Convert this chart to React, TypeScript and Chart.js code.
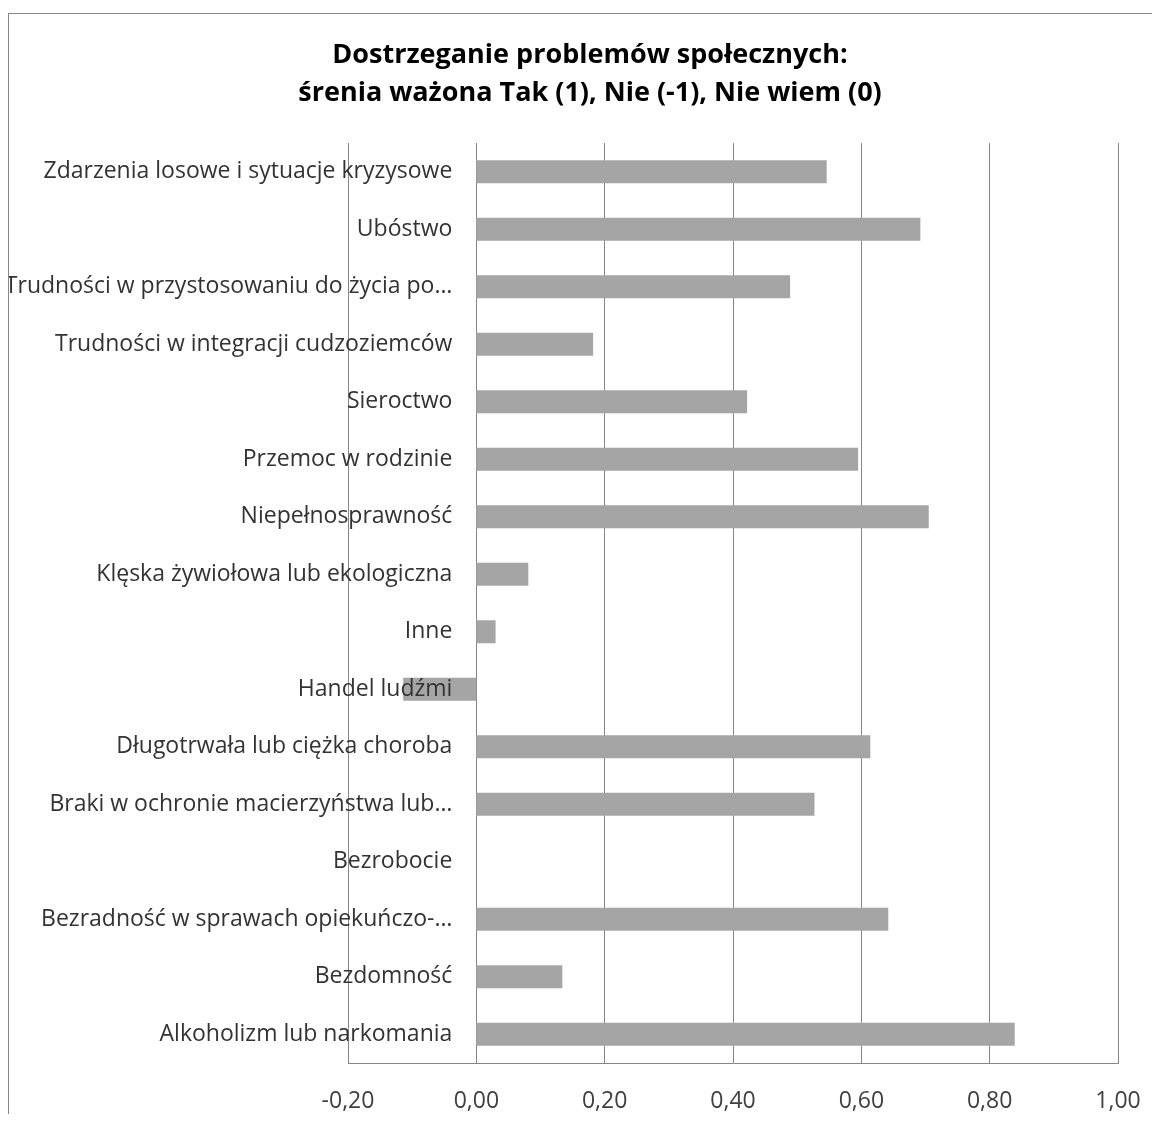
import React, { useEffect, useRef } from "react";
import { Chart, registerables } from "chart.js";

Chart.register(...registerables);

const titleLines = [
  "Dostrzeganie problemów społecznych:",
  "śrenia ważona Tak (1), Nie (-1), Nie wiem (0)",
];

const categories = [
  "Zdarzenia losowe i sytuacje kryzysowe",
  "Ubóstwo",
  "Trudności w przystosowaniu do życia po…",
  "Trudności w integracji cudzoziemców",
  "Sieroctwo",
  "Przemoc w rodzinie",
  "Niepełnosprawność",
  "Klęska żywiołowa lub ekologiczna",
  "Inne",
  "Handel ludźmi",
  "Długotrwała lub ciężka choroba",
  "Braki w ochronie macierzyństwa lub…",
  "Bezrobocie",
  "Bezradność w sprawach opiekuńczo-…",
  "Bezdomność",
  "Alkoholizm lub narkomania",
];

const values = [
  0.546, 0.692, 0.489, 0.182, 0.422, 0.595, 0.705, 0.081, 0.03, -0.114, 0.614,
  0.527, 0.0, 0.642, 0.134, 0.839,
];

const xMin = -0.2;
const xMax = 1.0;
const xStep = 0.2;

// category labels end a little left of the zero line (Excel style)
const LABEL_ANCHOR = -0.0374;

const LABEL_FONT = "'Open Sans', sans-serif";

export default function App() {
  const ref = useRef<HTMLCanvasElement | null>(null);

  useEffect(() => {
    if (!ref.current) return;
    const chart = new Chart(ref.current, {
      type: "bar",
      data: {
        labels: categories,
        datasets: [
          {
            data: values,
            backgroundColor: "#a5a5a5",
            borderWidth: 0,
            categoryPercentage: 0.8,
            barPercentage: 0.5,
          },
        ],
      },
      options: {
        indexAxis: "y",
        responsive: false,
        animation: false,
        layout: { padding: { left: 53, right: 34, top: 0, bottom: 1 } },
        plugins: {
          legend: { display: false },
          tooltip: { enabled: false },
          title: {
            display: true,
            text: titleLines,
            color: "#000000",
            font: { family: LABEL_FONT, size: 27, weight: "bold", lineHeight: 38 / 27 },
            padding: { top: 22, bottom: 31 },
          },
        },
        scales: {
          x: {
            type: "linear",
            min: xMin,
            max: xMax,
            afterFit: (scale: any) => {
              scale.height = 50;
              scale.paddingRight = 0;
              scale.paddingLeft = 0;
            },
            ticks: {
              stepSize: xStep,
              padding: 25,
              color: "#404040",
              font: { family: LABEL_FONT, size: 23 },
              callback: (v: any) => {
                const n = Math.abs(Number(v)) < 1e-9 ? 0 : Number(v);
                return n.toFixed(2).replace(".", ",");
              },
            },
            grid: { color: "#868686", lineWidth: 1, drawTicks: false },
            border: { display: true, color: "#868686", width: 1 },
          },
          y: {
            position: { x: LABEL_ANCHOR },
            grid: { display: false, drawTicks: false },
            border: { display: false },
            ticks: {
              padding: 0,
              z: 1,
              autoSkip: false,
              color: "#333333",
              font: { family: LABEL_FONT, size: 23 },
            },
          },
          yPad: {
            type: "linear",
            axis: "y",
            position: "left",
            display: true,
            ticks: { display: false },
            grid: { display: false, drawTicks: false },
            border: { display: false },
            afterFit: (scale: any) => {
              scale.width = 286;
            },
          },
        },
      },
    });
    return () => chart.destroy();
  }, []);

  return (
    <div style={{ paddingTop: 5 }}>
      <div
        style={{
          borderLeft: "1px solid #888888",
          borderTop: "1px solid #888888",
          width: 1143,
          height: 1100,
        }}
      >
        <canvas ref={ref} width={1143} height={1100} style={{ display: "block" }} />
      </div>
    </div>
  );
}
